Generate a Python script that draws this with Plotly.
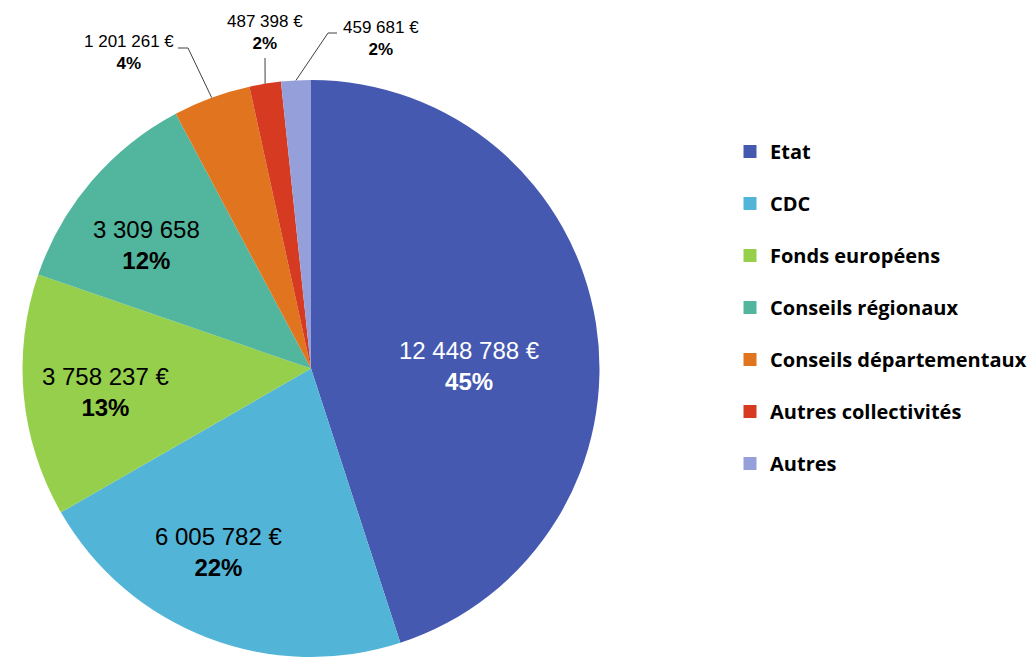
import math
import plotly.graph_objects as go

# ---- data ----
categories = ["Etat", "CDC", "Fonds européens", "Conseils régionaux",
              "Conseils départementaux", "Autres collectivités", "Autres"]
values = [12448788, 6005782, 3758237, 3309658, 1201261, 487398, 459681]
value_labels = ["12 448 788 €", "6 005 782 €", "3 758 237 €", "3 309 658",
                "1 201 261 €", "487 398 €", "459 681 €"]
pct_labels = ["45%", "22%", "13%", "12%", "4%", "2%", "2%"]

# ---- styles ----
colors = ["#4559B1", "#52B4D7", "#95CF4B", "#52B69E", "#E1741E", "#D63B22", "#959FDA"]
label_colors = ["white", "black", "black", "black", "black", "black", "black"]

W, H = 1034, 657
CX, CY, R = 311, 368.5, 288.5          # pie centre / radius in pixels

def px2paper(px, py):
    return px / W, 1 - py / H

# label positions (pixel centres of first line) for inside labels
inside_pos = {0: (469, 351), 1: (218, 537), 2: (105, 377), 3: (146, 230)}
# outside labels: text centre, elbow path to slice edge
outside_pos = {
    4: dict(text=(129, 52), elbow=[(178, 48), (188, 48)]),
    5: dict(text=(265, 32), elbow=[(265, 58)]),
    6: dict(text=(381, 38), elbow=[(337, 33), (328, 33)]),
}

fig = go.Figure()
fig.add_trace(go.Pie(
    labels=categories, values=values, sort=False, direction="clockwise",
    rotation=0, marker=dict(colors=colors, line=dict(width=0)),
    textinfo="none", showlegend=False, hoverinfo="label+value+percent",
    domain=dict(x=[(CX - R) / W, (CX + R) / W], y=[0, 2 * R / H]),
))

# legend via empty scatter entries (one group each so spacing is controllable)
for cat, col in zip(categories, colors):
    fig.add_trace(go.Scatter(
        x=[None], y=[None], mode="markers", name=cat, legendgroup=cat,
        marker=dict(symbol="square", size=13, color=col), hoverinfo="skip",
    ))

annotations = []
shapes = []
total = sum(values)
cum = 0
for i, v in enumerate(values):
    mid = (cum + v / 2) / total
    cum += v
    theta = 2 * math.pi * mid
    ex, ey = CX + R * math.sin(theta), CY - R * math.cos(theta)
    txt = f"{value_labels[i]}<br><b>{pct_labels[i]}</b>"
    if i in inside_pos:
        px, py = inside_pos[i]
        x, y = px2paper(px, py + 15)
        annotations.append(dict(
            x=x, y=y, xref="paper", yref="paper", text=txt, showarrow=False,
            xanchor="center", yanchor="middle",
            font=dict(family="Liberation Sans, Arial", size=24, color=label_colors[i]),
        ))
    else:
        o = outside_pos[i]
        px, py = o["text"]
        x, y = px2paper(px, py)
        annotations.append(dict(
            x=x, y=y, xref="paper", yref="paper", text=txt, showarrow=False,
            xanchor="center", yanchor="middle",
            font=dict(family="Liberation Sans, Arial", size=17, color="black"),
        ))
        pts = o["elbow"] + [(ex, ey)]
        path = "M " + " L ".join(f"{px2paper(a, b)[0]},{px2paper(a, b)[1]}" for a, b in pts)
        shapes.append(dict(type="path", xref="paper", yref="paper", path=path,
                           line=dict(color="#404040", width=1)))

fig.update_layout(
    width=W, height=H,
    margin=dict(l=0, r=0, t=0, b=0, autoexpand=False),
    paper_bgcolor="white", plot_bgcolor="white",
    xaxis=dict(visible=False), yaxis=dict(visible=False),
    showlegend=True,
    legend=dict(
        x=730 / W, y=1 - 132 / H, xanchor="left", yanchor="top",
        font=dict(family="Open Sans", size=20, color="black", weight="bold"),
        tracegroupgap=23, itemclick=False, itemdoubleclick=False,
    ),
    annotations=annotations, shapes=shapes,
)

fig.write_html("out.html", config={"displayModeBar": False},
               post_script="document.body.style.margin='0px';document.body.style.overflow='hidden';")
